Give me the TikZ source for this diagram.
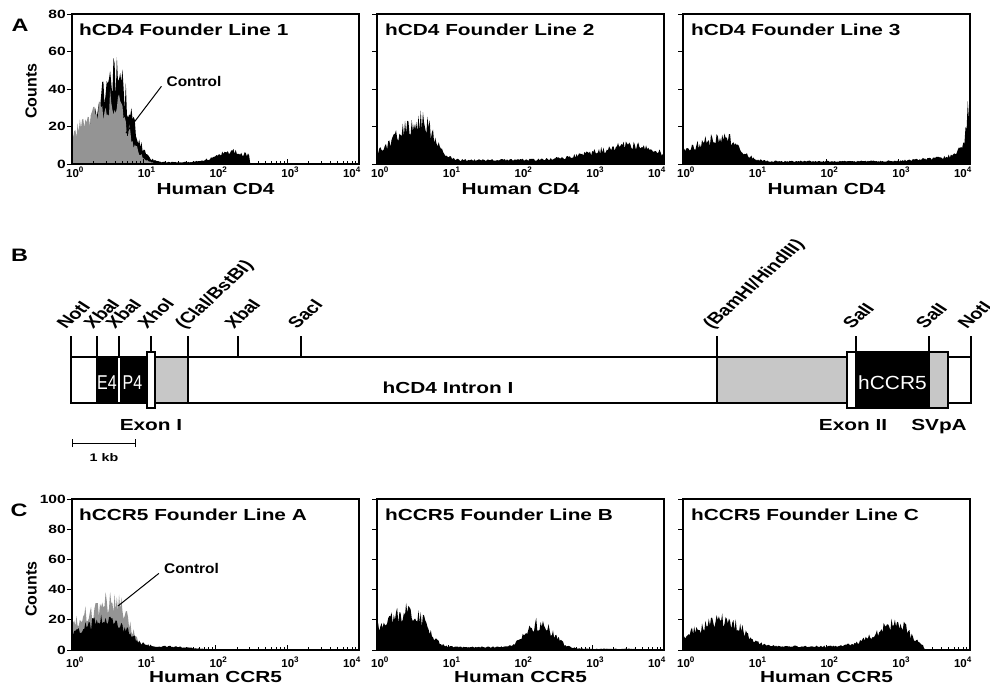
\documentclass[tikz,border=0pt]{standalone}
\usepackage{fontspec}
\newfontfamily\hv[FakeStretch=1.3]{Liberation Sans}
\newfontfamily\hvn{Liberation Sans}
\newfontfamily\hvc[FakeStretch=0.8]{Liberation Sans}
\newfontfamily\hvm[FakeStretch=1.1]{Liberation Sans}
\definecolor{hgray}{gray}{0.58}
\definecolor{bgray}{gray}{0.78}
\tikzset{
  frame/.style={line width=1.1pt},
  tickmark/.style={line width=0.9pt},
  ttl/.style={font=\hv\bfseries\fontsize{16}{18}\selectfont, anchor=base west, inner sep=0},
  axl/.style={font=\hv\bfseries\fontsize{16}{18}\selectfont, anchor=base, inner sep=0},
  xtl/.style={font=\hvn\bfseries\fontsize{11.5}{14}\selectfont, anchor=base, inner sep=0},
  ytl/.style={font=\hv\bfseries\fontsize{12}{14}\selectfont, anchor=east, inner sep=0},
  cnt/.style={font=\hvn\bfseries\fontsize{16}{18}\selectfont, rotate=90, inner sep=0},
  pnl/.style={font=\hv\bfseries\fontsize{18}{20}\selectfont, inner sep=0},
  ctl/.style={font=\hvm\bfseries\fontsize{14}{16}\selectfont, inner sep=0},
  rsite/.style={font=\hvn\bfseries\fontsize{15.5}{17}\selectfont, anchor=base west, inner sep=0, xscale=1.3, rotate=50},
  rline/.style={line width=1.2pt},
  bar/.style={line width=1.4pt},
  blab/.style={font=\hv\bfseries\fontsize{16}{18}\selectfont, anchor=base, inner sep=0},
}
\newcommand\hframe[4]{%
  \draw[frame] (#1,#2) rectangle ({#1+287},#3);
  \foreach \k in {0,...,#4} \draw[tickmark] (#1,{#3-(#3-#2)*\k/#4}) -- ++(-5,0);
  \foreach \d in {0,1,2,3} {\foreach \m in {0.301,0.477,0.602,0.699,0.778,0.845,0.903,0.954} \draw[tickmark] ({#1+71.75*(\d+\m)},#3) -- ++(0,-3);}
  \foreach \d in {1,2,3} \draw[tickmark] ({#1+71.75*\d},#3) -- ++(0,-5);
}
\newcommand\histscope[5]{%
  \begin{scope}[shift={(#1,#2)}, x=71.75pt, y=#3pt]
  \clip (0,0) rectangle (4,#4);
  #5
  \end{scope}}
\newcommand\histfill[2]{\fill[#1] (0,0) -- plot[variable=\t,domain=0:4,samples=257] (\t,{#2(\t)*(0.7+0.5*rnd)}) -- (4,0) -- cycle;}
\begin{document}
\begin{tikzpicture}[x=1pt,y=-1pt,
  declare function={
    gs(\vx,\vm,\vs)=exp(-min(9,(\vx-\vm)*(\vx-\vm)/(2*\vs*\vs)));
    ga(\vx,\vm,\vl,\vr)=ifthenelse(\vx<\vm,gs(\vx,\vm,\vl),gs(\vx,\vm,\vr));
    fAb(\vx)=48*ga(\vx,0.62,0.28,0.19)+ifthenelse(\vx<2.47,1+6*gs(\vx,2.25,0.22),0.15);
    fAg(\vx)=34*ga(\vx,0.57,0.45,0.2);
    fAt(\vx)=22*ga(\vx,0.62,0.35,0.17)+2.2+8*ga(\vx,3.55,0.5,0.35);
    fAh(\vx)=13*ga(\vx,0.58,0.45,0.2)+1.5+2*gs(\vx,3.7,0.35)+28*gs(\vx,3.99,0.035)+5*gs(\vx,3.9,0.1);
    fCb(\vx)=21*ga(\vx,0.55,0.45,0.22)+ifthenelse(\vx<1.9,0.4+2*gs(\vx,1.3,0.3),ifthenelse(\vx<2.45,0.3,0.03));
    fCg(\vx)=33*ga(\vx,0.6,0.55,0.18);
    fCt(\vx)=25*ga(\vx,0.5,0.45,0.18)+ifthenelse(\vx<2.6,2,ifthenelse(\vx<3.6,0.8,0.05))+16*ga(\vx,2.25,0.17,0.2);
    fCh(\vx)=18*ga(\vx,0.62,0.45,0.22)+ifthenelse(\vx<3.35,2.5,0.05)+16*ga(\vx,3.0,0.3,0.15);
  }]
\useasboundingbox[fill=white] (0,0) rectangle (990,691);
\pgfmathsetseed{4711}

% ---------- Panel A histograms
\histscope{72}{164}{1.875}{80}{\histfill{black}{fAb}\histfill{hgray}{fAg}}
\histscope{377}{164}{1.875}{80}{\histfill{black}{fAt}}
\histscope{683}{164}{1.875}{80}{\histfill{black}{fAh}}
\hframe{72}{14}{164}{4}
\hframe{377}{14}{164}{4}
\hframe{683}{14}{164}{4}

% ---------- Panel C histograms
\histscope{72}{650}{1.51}{100}{\histfill{hgray}{fCg}\histfill{black}{fCb}}
\histscope{377}{650}{1.51}{100}{\histfill{black}{fCt}}
\histscope{683}{650}{1.51}{100}{\histfill{black}{fCh}}
\hframe{72}{499}{650}{5}
\hframe{377}{499}{650}{5}
\hframe{683}{499}{650}{5}

% ---------- panel letters
\node[pnl] (lA) at (20,25) {A};
\node[pnl] (lB) at (19.5,255) {B};
\node[pnl] (lC) at (19,510) {C};

% ---------- titles
\node[ttl] (tA1) at (79,35) {hCD4 Founder Line 1};
\node[ttl] (tA2) at (385,35) {hCD4 Founder Line 2};
\node[ttl] (tA3) at (691,35) {hCD4 Founder Line 3};
\node[ttl] (tC1) at (79,520) {hCCR5 Founder Line A};
\node[ttl] (tC2) at (385,520) {hCCR5 Founder Line B};
\node[ttl] (tC3) at (691,520) {hCCR5 Founder Line C};

% ---------- axis labels
\foreach \p/\xo in {1/72,2/377,3/683} {
  \node[axl] (xA\p) at ({\xo+143.5},194) {Human CD4};
  \node[axl] (xC\p) at ({\xo+143.5},682) {Human CCR5};
  \foreach \d in {0,1,2,3} {
    \node[xtl] (tkA\p\d) at ({\xo+71.75*\d+3},177) {10\textsuperscript{\d}};
    \node[xtl] (tkC\p\d) at ({\xo+71.75*\d+3},667) {10\textsuperscript{\d}};
  }
  \node[xtl, anchor=base east] (tkA\p4) at ({\xo+289},177) {10\textsuperscript{4}};
  \node[xtl, anchor=base east] (tkC\p4) at ({\xo+289},667) {10\textsuperscript{4}};
}
\foreach \v [count=\i from 0] in {0,20,40,60,80}
  \node[ytl] (yA\i) at (66,{164-37.5*\i}) {\v};
\foreach \v [count=\i from 0] in {0,20,40,60,80,100}
  \node[ytl] (yC\i) at (66,{650-30.2*\i}) {\v};
\node[cnt] (cntA) at (31,91) {Counts};
\node[cnt] (cntC) at (31,589) {Counts};

% ---------- control annotations
\node[ctl] (ctrlA) at (194,81) {Control};
\coordinate (ctrlAend) at (126,133);
\draw[line width=1pt] (ctrlA.south west) ++(-5,0) coordinate (ctrlAst) -- (ctrlAend);
\node[ctl] (ctrlC) at (191.5,568) {Control};
\coordinate (ctrlCend) at (118,606);
\draw[line width=1pt] (ctrlC.south west) ++(-5,0) coordinate (ctrlCst) -- (ctrlCend);

% ---------- Panel B gene map
\draw[bar, fill=white] (71,357) rectangle (971,403);
\fill[black] (96,357) rectangle (147,403);
\draw[white, line width=1.2pt] (119,358) -- (119,402);
\fill[bgray] (155,357) rectangle (188,403);
\fill[bgray] (717,357) rectangle (847,403);
\draw[bar] (71,357) rectangle (971,403);
\draw[bar] (188,357) -- (188,403);
\draw[bar] (717,357) -- (717,403);
\draw[bar, fill=white] (147,352) rectangle (155,408);
\draw[bar, fill=white] (847,352) rectangle (856,408);
\draw[bar, fill=black] (856,352) rectangle (929,408);
\draw[bar, fill=bgray] (929,352) rectangle (948,408);
\foreach \xx in {71,97,119,188,238,301,717,971} \draw[rline] (\xx,336) -- (\xx,357);
\foreach \xx in {151,856,929} \draw[rline] (\xx,336) -- (\xx,352);

\node[rsite] (r1) at (66,330) {NotI};
\node[rsite] (r2) at (93,330) {XbaI};
\node[rsite] (r3) at (115,330) {XbaI};
\node[rsite] (r4) at (147,330) {XhoI};
\node[rsite] (r5) at (184,330) {(ClaI/BstBI)};
\node[rsite] (r6) at (234,330) {XbaI};
\node[rsite] (r7) at (297,330) {SacI};
\node[rsite] (r8) at (712,330) {(BamHI/HindIII)};
\node[rsite] (r9) at (852,330) {SalI};
\node[rsite] (r10) at (925,330) {SalI};
\node[rsite] (r11) at (967,330) {NotI};

\node[font=\hvc\fontsize{20}{22}\selectfont, text=white, anchor=base, inner sep=0] (e4) at (107,389) {E4};
\node[font=\hvc\fontsize{20}{22}\selectfont, text=white, anchor=base, inner sep=0] (p4) at (132.5,389) {P4};
\node[font=\hvm\fontsize{19}{21}\selectfont, text=white, anchor=base, inner sep=0] (ccr5) at (892.5,389) {hCCR5};
\node[blab] (intron) at (448,393) {hCD4 Intron I};
\node[blab] (ex1) at (151,430) {Exon I};
\node[blab] (ex2) at (853,430) {Exon II};
\node[blab] (svpa) at (939,430) {SVpA};

\coordinate (sbL) at (72,443);
\coordinate (sbR) at (135,443);
\draw[line width=1pt] (sbL) -- (sbR);
\draw[line width=1pt] ([yshift=-4pt]sbL) -- ([yshift=4pt]sbL);
\draw[line width=1pt] ([yshift=-4pt]sbR) -- ([yshift=4pt]sbR);
\node[font=\hv\bfseries\fontsize{11}{13}\selectfont, anchor=base, inner sep=0] (kb) at (104,461) {1 kb};
\end{tikzpicture}
\end{document}
